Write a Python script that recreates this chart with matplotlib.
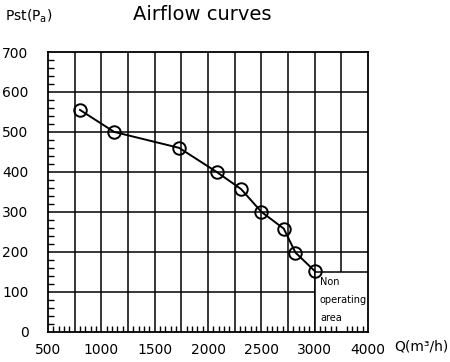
import matplotlib
matplotlib.use("Agg")
import matplotlib.pyplot as plt
import matplotlib.patches as mpatches
import numpy as np

# Data
flow = [800, 1120, 1730, 2080, 2310, 2500, 2710, 2820, 3000]   # Q (m3/h)
pressure = [555, 500, 460, 400, 357, 300, 258, 198, 152]       # Pst (Pa)

x_labels = [500, 1000, 1500, 2000, 2500, 3000, 4000]
y_labels = [0, 100, 200, 300, 400, 500, 600, 700]
x_grid = [750, 1000, 1250, 1500, 1750, 2000, 2250, 2500, 2750, 3000, 3500]
non_op_q = (3000, 4000)
non_op_p = 150


# column axis: 250 m3/h per column up to 3000, 500 per column after
def fwd(x):
    x = np.asarray(x, dtype=float)
    return np.where(x <= 3000, (x - 500) / 250.0, 10 + (x - 3000) / 500.0)


def inv(u):
    u = np.asarray(u, dtype=float)
    return np.where(u <= 10, 500 + 250.0 * u, 3000 + 500.0 * (u - 10))


plt.rcParams['font.family'] = ['DejaVu Sans']

fig = plt.figure(figsize=(4.5, 3.62), dpi=100)
ax = fig.add_axes([48 / 450, 30.3 / 362, 320 / 450, 279.7 / 362])
ax.set_xscale('function', functions=(fwd, inv))
ax.set_xlim(500, 4000)
ax.set_ylim(0, 700)

# grid drawn by hand so the non operating box can cover it
ax.vlines(x_grid, 0, 700, color='black', lw=1.1, zorder=1)
ax.hlines(y_labels[1:-1], 500, 4000, color='black', lw=1.1, zorder=1)

# non operating area
ax.add_patch(mpatches.Rectangle((non_op_q[0], 0), non_op_q[1] - non_op_q[0], non_op_p,
                                facecolor='white', edgecolor='none', zorder=1.5))
ax.plot([non_op_q[0], non_op_q[1]], [non_op_p, non_op_p], color='black', lw=1.1, zorder=1.6)
ax.plot([non_op_q[0], non_op_q[0]], [0, non_op_p], color='black', lw=1.1, zorder=1.6)
ax.text(3100, 138, "Non\noperating\narea", fontsize=7, va='top', ha='left',
        linespacing=2.0, zorder=2)

# curve
ax.plot(flow, pressure, color='black', lw=1.4, marker='o', markersize=9,
        markerfacecolor='none', markeredgewidth=1.4, zorder=3)

# ticks
ax.set_xticks(x_labels)
ax.set_xticklabels([str(v) for v in x_labels])
ax.set_yticks(y_labels)
minor_x = [v for v in np.arange(550, 3000, 50) if v % 250 != 0] + \
          [v for v in np.arange(3100, 4000, 100) if v % 500 != 0]
ax.set_xticks(minor_x, minor=True)
ax.set_yticks([v for v in np.arange(20, 700, 20) if v % 100 != 0], minor=True)
ax.tick_params(which='major', length=0, labelsize=10)
ax.tick_params(axis='x', which='major', pad=8)
ax.tick_params(axis='y', which='major', pad=14)
ax.tick_params(which='minor', direction='in', length=4, width=1.0, color='black')
ax.tick_params(axis='x', which='minor', top=False)
ax.tick_params(axis='y', which='minor', right=False)

for sp in ax.spines.values():
    sp.set_linewidth(1.3)

fig.text(202 / 450, 1 - 15 / 362, "Airflow curves", fontsize=14, ha='center', va='center')
fig.text(5 / 450, 1 - 16 / 362, r"Pst(P$_\mathregular{a}$)", fontsize=10, ha='left', va='center')
fig.text(394 / 450, 1 - 347 / 362, "Q(m³/h)", fontsize=10, ha='left', va='center')

fig.savefig("out.png", dpi=100)
